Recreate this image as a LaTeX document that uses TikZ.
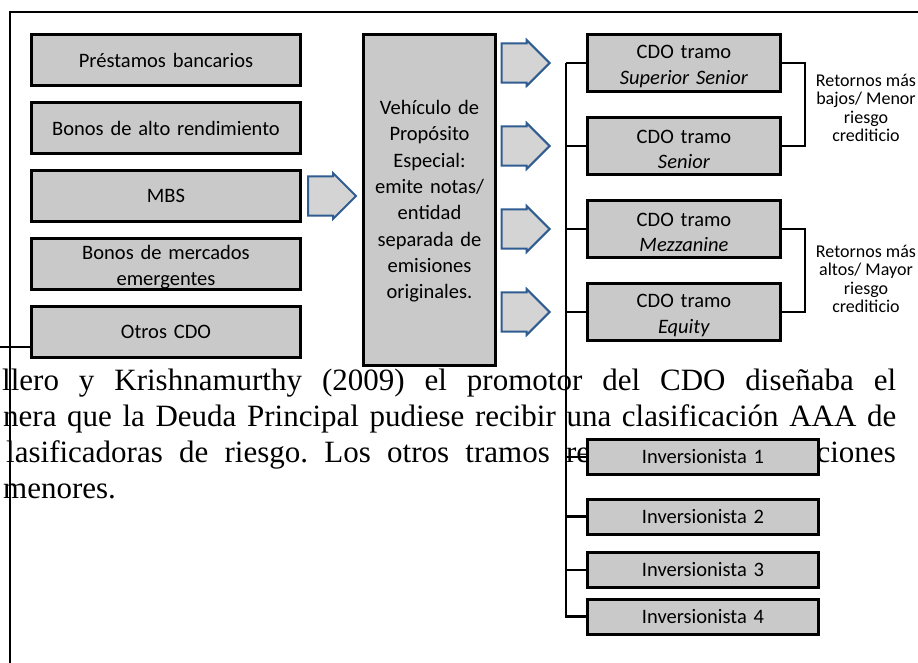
\documentclass[tikz,border=0pt]{standalone}
\usepackage{fontspec}
\setmainfont{Carlito}
\newfontfamily\parafont{Liberation Serif}
\usetikzlibrary{positioning,shapes.arrows}
\definecolor{boxgray}{RGB}{201,201,201}
\definecolor{arrowblue}{RGB}{47,92,145}
\frenchspacing

\begin{document}
\begin{tikzpicture}[x=1pt,y=-1pt]
	\tikzstyle{box}=[rectangle, draw=black, line width=3pt, fill=boxgray, inner sep=1pt, align=center, font=\fontsize{20.5pt}{25.5pt}\selectfont]
	\tikzstyle{src}=[box, minimum width=269pt, minimum height=51pt, text width=260pt, node distance=14pt]
	\tikzstyle{tramo}=[box, minimum width=193pt, minimum height=57pt, text width=186pt, text height=20pt, node distance=23pt]
	\tikzstyle{inv}=[box, minimum width=231pt, minimum height=35pt, text width=224pt]
	\tikzstyle{bigarrow}=[single arrow, draw=arrowblue, line width=2pt, fill=boxgray!80, minimum height=48pt, minimum width=46pt, inner ysep=11pt, inner xsep=0pt, single arrow head extend=2pt]
	\tikzstyle{tree}=[line width=2.4pt]
	\tikzstyle{ret}=[align=center, inner sep=0pt, font=\fontsize{18pt}{18.5pt}\selectfont]
	\tikzstyle{para}=[inner sep=0pt, anchor=base west, font=\parafont\fontsize{31pt}{36pt}\selectfont]
	\useasboundingbox (0,0) rectangle (918,663);
	\clip (0,0) rectangle (918,663);

	% texto del documento (queda por debajo)
	\node[para] (l1) at (2,390) {\makebox[894pt][s]{llero y Krishnamurthy (2009) el promotor del CDO diseñaba el}};
	\node[para] (l2) at (3,426) {\makebox[893pt][s]{nera que la Deuda Principal pudiese recibir una clasificación AAA de}};
	\node[para] (l3) at (6,462) {\makebox[584pt][s]{lasificadoras de riesgo. Los otros tramos re}};
	\node[para, anchor=base east] (l3b) at (896,462) {ciones};
	\node[para] (l4) at (3,498) {menores.};

	% marco
	\draw[line width=1.8pt] (918,12) -| (10,663);

	% emisiones originales
	\node[src] (p1) at (166,60) {Préstamos bancarios};
	\node[src] (p2) [below=of p1] {Bonos de alto rendimiento};
	\node[src] (p3) [below=of p2] {MBS};
	\node[src, text height=20pt] (p4) [below=of p3] {Bonos de mercados\\emergentes};
	\node[src] (p5) [below=of p4] {Otros CDO};
	\coordinate (stub) at (0,347);
	\draw[tree] (stub) -- (stub -| p5.west);

	\node[bigarrow] (a0) [right=5pt of p3] {};
	\node[box, minimum width=132pt, minimum height=331pt, text width=126pt, text height=17pt,
		font=\fontsize{20.5pt}{26.3pt}\selectfont] (spv) at (429.5,200)
		{Vehículo de\\Propósito\\Especial:\\emite notas/\\entidad\\separada de\\emisiones\\originales.};

	% tramos
	\node[tramo] (t1) at (684,63) {CDO tramo\\\textit{Superior Senior}};
	\node[tramo] (t2) [below=of t1] {CDO tramo\\\textit{Senior}};
	\node[tramo] (t3) [below=of t2] {CDO tramo\\\textit{Mezzanine}};
	\node[tramo] (t4) [below=of t3] {CDO tramo\\\textit{Equity}};
	\foreach \t in {t1,t2,t3,t4}
		\node[bigarrow] (a\t) [left=35pt of \t] {};

	\draw[tree] (t1.east) -- ++(23pt,0) |- (t2.east);
	\draw[tree] (t3.east) -- ++(23pt,0) |- (t4.east);
	\node[ret] (r1) at (866,108) {Retornos más\\bajos/ Menor\\riesgo\\crediticio};
	\node[ret] (r2) at (866,279) {Retornos más\\altos/ Mayor\\riesgo\\crediticio};

	% inversionistas
	\node[inv] (i1) at (703,457) {Inversionista 1};
	\node[inv] (i2) at (703,516.5) {Inversionista 2};
	\node[inv] (i3) at (703,570) {Inversionista 3};
	\node[inv] (i4) at (703,616.5) {Inversionista 4};

	\coordinate[left=20pt of t1.west] (top);
	\draw[tree] (top) |- (i4.west);
	\foreach \n in {t1,t2,t3,t4,i1,i2,i3}
		\draw[tree] (\n.west) -- (\n.west -| top);
\end{tikzpicture}
\end{document}
